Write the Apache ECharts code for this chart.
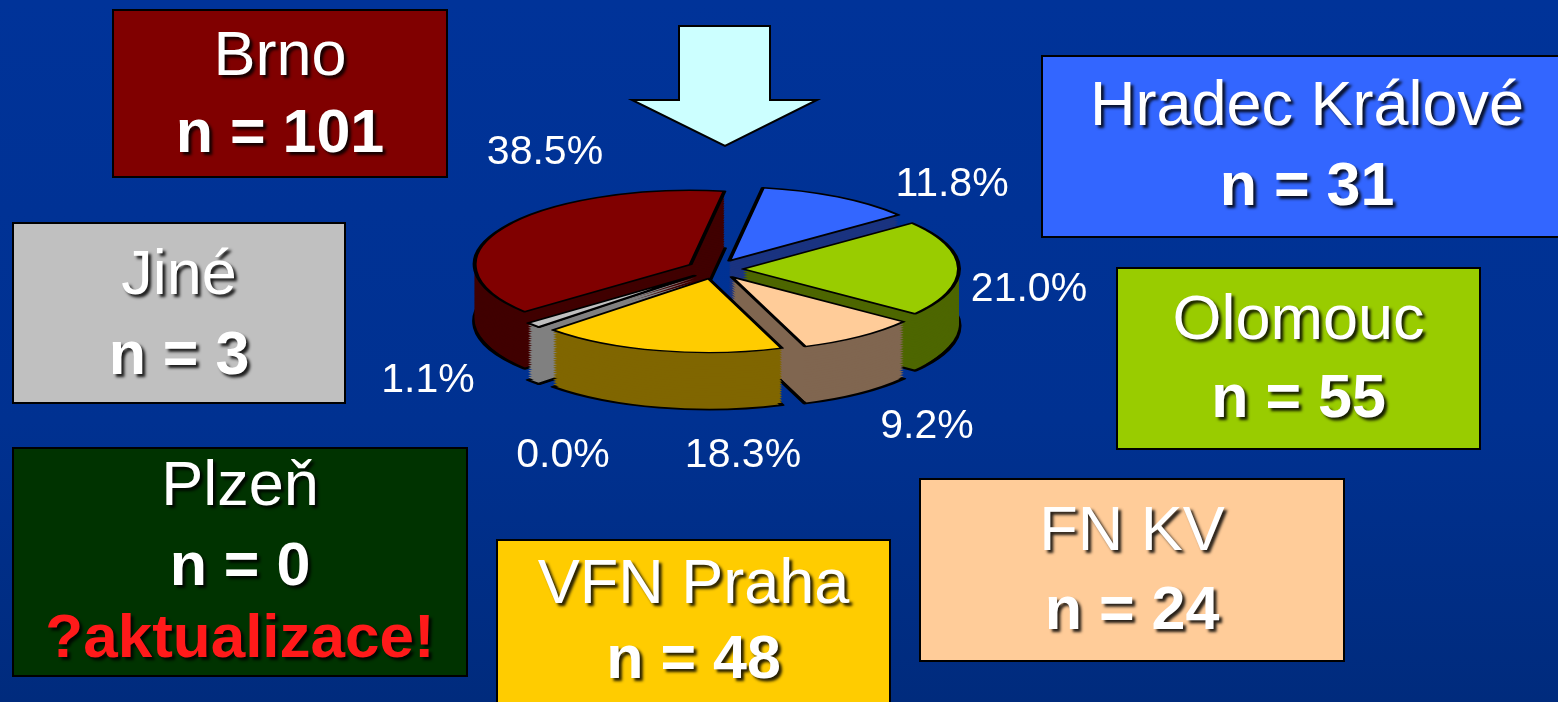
<!DOCTYPE html>
<html>
<head>
<meta charset="utf-8">
<script src="https://cdn.jsdelivr.net/npm/echarts@6/dist/echarts.min.js"></script>
<style>
html, body { margin: 0; padding: 0; width: 1558px; height: 702px; overflow: hidden; }
#main { position: absolute; left: 0; top: 0; width: 1558px; height: 702px; }
/* the pie is drawn round and squashed vertically to get the tilted look */
#pie { position: absolute; left: 415px; top: 180px; width: 600px; height: 700px; transform: scaleY(0.343); transform-origin: 0 0; }
</style>
</head>
<body>
<div id="main"></div>
<div id="pie"></div>
<script>
// data
var categories = ['Hradec Králové', 'Olomouc', 'FN KV', 'VFN Praha', 'Plzeň', 'Jiné', 'Brno'];
var counts = [31, 55, 24, 48, 0, 3, 101];
var notes = ['', '', '', '', '?aktualizace!', '', ''];

// styles
var topColors = ['#3366ff', '#99cc00', '#ffcc99', '#ffcc00', '#003300', '#c0c0c0', '#800000'];
var sideColors = ['#1a3380', '#4d6600', '#806650', '#806600', '#001a00', '#808080', '#400000'];
var boxRects = [[1042, 56, 530, 181], [1117, 268, 363, 181], [920, 479, 424, 182], [497, 540, 393, 180],
                [13, 448, 454, 228], [13, 223, 332, 180], [113, 10, 334, 167]];
var boxTextY = [[108, 188], [322, 400], [533, 612], [586, 661], [488, 568, 640], [277, 357], [58, 135]];
var labelSpots = [[952, 185], [1029, 290], [927, 427], [743, 456], [563, 456], [428, 381], [545, 153]];

var FONT = '"Liberation Sans", Arial, sans-serif';
var total = counts.reduce(function (a, b) { return a + b; }, 0);

var shadow = { textShadowColor: 'rgba(0,0,0,0.85)', textShadowOffsetX: 3, textShadowOffsetY: 3, textShadowBlur: 3 };

function textEl(x, y, text, font, fill) {
  return {
    type: 'text', x: x, y: y, z: 10,
    style: Object.assign({ text: text, font: font, fill: fill, textAlign: 'center', textVerticalAlign: 'middle' }, shadow)
  };
}

// boxes with names and counts
var graphics = [];
categories.forEach(function (name, i) {
  var r = boxRects[i];
  var cx = r[0] + r[2] / 2;
  graphics.push({
    type: 'rect', z: 5,
    shape: { x: r[0], y: r[1], width: r[2], height: r[3] },
    style: { fill: topColors[i], stroke: '#000', lineWidth: 2 }
  });
  graphics.push(textEl(cx, boxTextY[i][0], name, '63px ' + FONT, '#fff'));
  graphics.push(textEl(cx, boxTextY[i][1], 'n = ' + counts[i], 'bold 61px ' + FONT, '#fff'));
  if (notes[i]) {
    graphics.push(textEl(cx, boxTextY[i][2], notes[i], 'bold 62px ' + FONT, '#ff1a1a'));
  }
});

// arrow pointing at the pie
graphics.push({
  type: 'polygon', z: 5,
  shape: { points: [[679, 26], [770, 26], [770, 100], [817, 100], [725, 146], [632, 100], [679, 100]] },
  style: { fill: '#ccffff', stroke: '#000', lineWidth: 2 }
});

var mainChart = echarts.init(document.getElementById('main'));
mainChart.setOption({
  animation: false,
  backgroundColor: {
    type: 'linear', x: 0, y: 0, x2: 0, y2: 1,
    colorStops: [{ offset: 0, color: '#003399' }, { offset: 0.6, color: '#003191' }, { offset: 1, color: '#002b7d' }]
  },
  graphic: graphics,
  series: [{
    // invisible pie, only carries the percentage labels
    type: 'pie',
    silent: true,
    center: [716, 270],
    radius: 216,
    startAngle: 81,
    avoidLabelOverlap: false,
    itemStyle: { color: 'rgba(0,0,0,0)', borderWidth: 0 },
    label: {
      show: true,
      color: '#fff',
      fontSize: 41,
      fontFamily: FONT,
      formatter: function (p) { return (p.value / total * 100).toFixed(1) + '%'; }
    },
    labelLine: { show: false },
    labelLayout: function (p) {
      var s = labelSpots[p.dataIndex];
      return { x: s[0], y: s[1], align: 'center', verticalAlign: 'middle' };
    },
    data: categories.map(function (name, i) { return { name: name, value: counts[i] }; })
  }]
});

// pie body: stacked darker copies for the side wall, then the top face
var DEPTH = 166, LAYERS = 24, CY = 260;

function pieLayer(cy, colors, border) {
  return {
    type: 'pie',
    silent: true,
    center: [300, cy],
    radius: 216,
    startAngle: 81,
    clockwise: true,
    selectedMode: 'multiple',
    selectedOffset: 28,
    avoidLabelOverlap: false,
    label: { show: false },
    labelLine: { show: false },
    emphasis: { disabled: true },
    itemStyle: { borderColor: '#000', borderWidth: border },
    data: categories.map(function (name, i) {
      return { name: name, value: counts[i], selected: true, itemStyle: { color: colors[i] } };
    })
  };
}

var pieSeries = [];
for (var k = LAYERS; k >= 1; k--) {
  pieSeries.push(pieLayer(CY + k * DEPTH / LAYERS, sideColors, k === LAYERS ? 5 : 0));
}
pieSeries.push(pieLayer(CY, topColors, 4));

var pieChart = echarts.init(document.getElementById('pie'), null, { renderer: 'svg' });
pieChart.setOption({
  animation: false,
  series: pieSeries
});
</script>
</body>
</html>
